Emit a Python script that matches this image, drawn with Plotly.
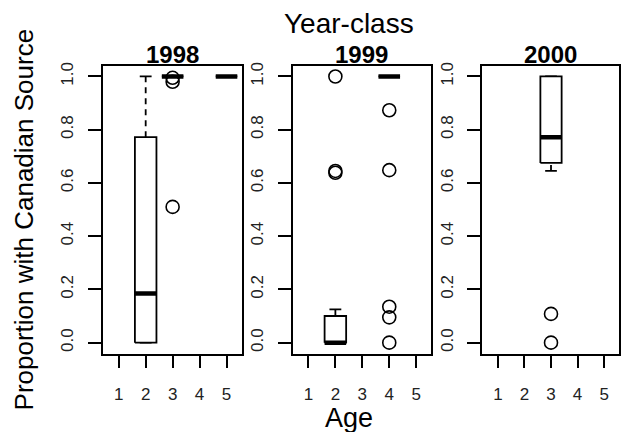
import plotly.graph_objects as go

W, H = 621, 432

# ---- data ----
year_classes = ["1998", "1999", "2000"]
ages = [1, 2, 3, 4, 5]
y_ticks = [0.0, 0.2, 0.4, 0.6, 0.8, 1.0]
y_tick_labels = ["0.0", "0.2", "0.4", "0.6", "0.8", "1.0"]

# box-plot summary statistics (one entry per box)
box_class = ["1998", "1998", "1998", "1999", "1999", "2000"]
box_age = [2, 3, 5, 2, 4, 3]
box_lower = [0.0, 1.0, 1.0, 0.0, 1.0, 0.645]
box_q1 = [0.0, 1.0, 1.0, 0.0, 1.0, 0.675]
box_median = [0.185, 1.0, 1.0, 0.0, 1.0, 0.772]
box_q3 = [0.772, 1.0, 1.0, 0.10, 1.0, 1.0]
box_upper = [1.0, 1.0, 1.0, 0.125, 1.0, 1.0]

# outlying points
out_class = ["1998", "1998", "1998",
             "1999", "1999", "1999",
             "1999", "1999", "1999", "1999", "1999",
             "2000", "2000"]
out_age = [3, 3, 3,
           2, 2, 2,
           4, 4, 4, 4, 4,
           3, 3]
out_value = [0.995, 0.98, 0.51,
             1.0, 0.645, 0.638,
             0.873, 0.648, 0.135, 0.095, 0.0,
             0.108, 0.0]

# ---- style ----
FONT = "Liberation Sans, Arial, sans-serif"
LW = 1.8
HALF_BOX = 0.4
HALF_CAP = 0.22

panel_px = [(103, 242), (293, 432), (483, 620)]
y_top_px, y_bot_px = 63, 353

fig = go.Figure()

axis_ids = ["", "2", "3"]


def add(trace, k):
    trace.update(xaxis="x" + axis_ids[k], yaxis="y" + axis_ids[k])
    fig.add_trace(trace)


line = dict(color="black", width=LW)
for i in range(len(box_age)):
    k = year_classes.index(box_class[i])
    a = box_age[i]
    # whiskers (dashed)
    add(go.Scatter(x=[a, a, None, a, a],
                   y=[box_q3[i], box_upper[i], None, box_lower[i], box_q1[i]],
                   mode="lines", line=dict(color="black", width=LW, dash="6px,5px")), k)
    # staples
    add(go.Scatter(x=[a - HALF_CAP, a + HALF_CAP, None, a - HALF_CAP, a + HALF_CAP],
                   y=[box_upper[i], box_upper[i], None, box_lower[i], box_lower[i]],
                   mode="lines", line=line), k)
    # box
    add(go.Scatter(x=[a - HALF_BOX, a + HALF_BOX, a + HALF_BOX, a - HALF_BOX, a - HALF_BOX],
                   y=[box_q1[i], box_q1[i], box_q3[i], box_q3[i], box_q1[i]],
                   mode="lines", line=line, fill="toself", fillcolor="white"), k)
    # median
    add(go.Scatter(x=[a - HALF_BOX, a + HALF_BOX], y=[box_median[i], box_median[i]],
                   mode="lines", line=dict(color="black", width=4.5)), k)

for k, yc in enumerate(year_classes):
    xs = [out_age[j] for j in range(len(out_age)) if out_class[j] == yc]
    ys = [out_value[j] for j in range(len(out_age)) if out_class[j] == yc]
    add(go.Scatter(x=xs, y=ys, mode="markers",
                   marker=dict(symbol="circle-open", size=13, color="black",
                               line=dict(width=1.6, color="black"))), k)

layout = dict(
    width=W, height=H,
    margin=dict(l=0, r=0, t=0, b=0),
    paper_bgcolor="white", plot_bgcolor="white",
    showlegend=False, hovermode=False,
    font=dict(family=FONT, color="black"),
)

ydom = [1 - y_bot_px / H, 1 - y_top_px / H]
for k in range(3):
    x0, x1 = panel_px[k]
    layout["xaxis" + axis_ids[k]] = dict(
        domain=[x0 / W, x1 / W], range=[0.41, 5.56],
        tickvals=ages, ticktext=[str(a) for a in ages],
        ticks="outside", ticklen=13, tickwidth=LW, tickcolor="black",
        showline=True, mirror=True, linewidth=LW, linecolor="black",
        showgrid=False, zeroline=False,
        tickfont=dict(family=FONT, size=17, color="#222"),
        ticklabelstandoff=11,
        anchor="y" + axis_ids[k],
    )
    layout["yaxis" + axis_ids[k]] = dict(
        domain=ydom, range=[-0.041, 1.041],
        tickvals=y_ticks, ticktext=y_tick_labels, tickangle=-90,
        ticks="outside", ticklen=13, tickwidth=LW, tickcolor="black",
        showline=True, mirror=True, linewidth=LW, linecolor="black",
        showgrid=False, zeroline=False,
        tickfont=dict(family=FONT, size=17, color="#222"),
        ticklabelstandoff=8,
        anchor="x" + axis_ids[k],
    )

annotations = []
for k, yc in enumerate(year_classes):
    x0, x1 = panel_px[k]
    annotations.append(dict(text="<b>" + yc + "</b>", x=(x0 + x1) / 2 / W, y=1 - 52 / H,
                            xref="paper", yref="paper", showarrow=False,
                            xanchor="center", yanchor="middle",
                            font=dict(family=FONT, size=24, color="black")))
annotations.append(dict(text="Year-class", x=350 / W, y=1 - 21 / H, xref="paper", yref="paper",
                        showarrow=False, xanchor="center", yanchor="middle",
                        font=dict(family=FONT, size=28, color="black")))
annotations.append(dict(text="Age", x=350 / W, y=1 - 418 / H, xref="paper", yref="paper",
                        showarrow=False, xanchor="center", yanchor="middle",
                        font=dict(family=FONT, size=27, color="black")))
annotations.append(dict(text="Proportion with Canadian Source", x=25 / W, y=1 - 218 / H,
                        xref="paper", yref="paper", textangle=-90,
                        showarrow=False, xanchor="center", yanchor="middle",
                        font=dict(family=FONT, size=26, color="black")))
layout["annotations"] = annotations

fig.update_layout(**layout)
fig.write_html("out.html", config={"displayModeBar": False},
               post_script="document.body.style.margin='0px';document.body.style.overflow='hidden';")
